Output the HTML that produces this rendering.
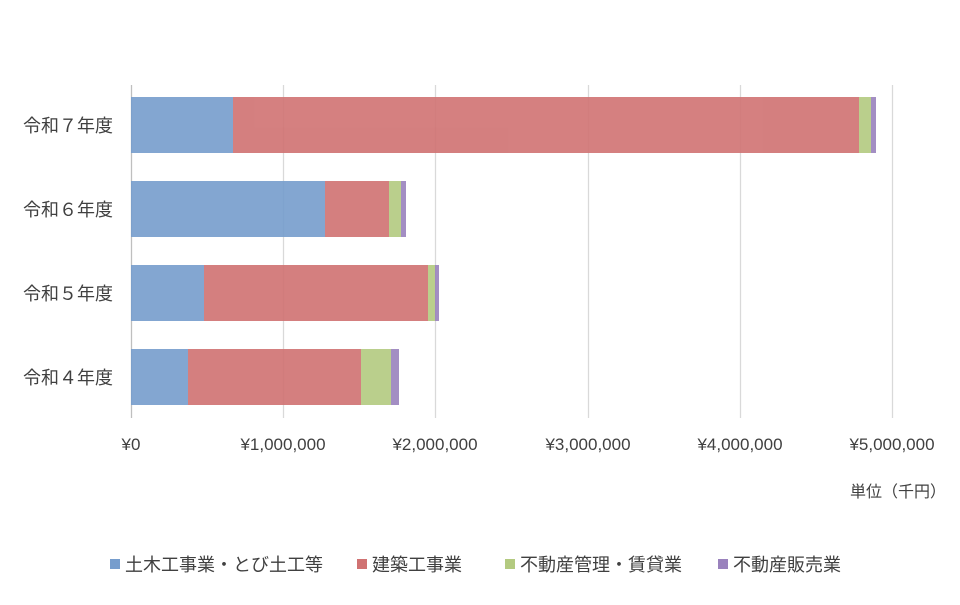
<!DOCTYPE html>
<html><head><meta charset="utf-8"><style>
body{margin:0;background:#fff;}
svg text{font-family:"Liberation Sans","Noto Sans CJK JP",sans-serif;fill:#404040;}
</style></head><body>
<svg width="960" height="600" xmlns="http://www.w3.org/2000/svg">
<rect width="960" height="600" fill="#fff"/>
<g stroke="#d9d9d9" stroke-width="1.3">
<line x1="283.5" y1="85" x2="283.5" y2="418"/>
<line x1="435.5" y1="85" x2="435.5" y2="418"/>
<line x1="588.5" y1="85" x2="588.5" y2="418"/>
<line x1="740.5" y1="85" x2="740.5" y2="418"/>
<line x1="892.5" y1="85" x2="892.5" y2="418"/>
</g>
<line x1="131.5" y1="85" x2="131.5" y2="418" stroke="#bfbfbf" stroke-width="1.3"/>
<g opacity="0.9">
<rect x="131" y="97" width="102" height="56" fill="#769dcd"/>
<rect x="233" y="97" width="626" height="56" fill="#d07272"/>
<rect x="859" y="97" width="12" height="56" fill="#b3ca80"/>
<rect x="871" y="97" width="5" height="56" fill="#9a82bd"/>
<rect x="131" y="181" width="194" height="56" fill="#769dcd"/>
<rect x="325" y="181" width="64" height="56" fill="#d07272"/>
<rect x="389" y="181" width="12" height="56" fill="#b3ca80"/>
<rect x="401" y="181" width="5" height="56" fill="#9a82bd"/>
<rect x="131" y="265" width="73" height="56" fill="#769dcd"/>
<rect x="204" y="265" width="224" height="56" fill="#d07272"/>
<rect x="428" y="265" width="7" height="56" fill="#b3ca80"/>
<rect x="435" y="265" width="4" height="56" fill="#9a82bd"/>
<rect x="131" y="349" width="57" height="56" fill="#769dcd"/>
<rect x="188" y="349" width="173" height="56" fill="#d07272"/>
<rect x="361" y="349" width="30" height="56" fill="#b3ca80"/>
<rect x="391" y="349" width="8" height="56" fill="#9a82bd"/>
</g>
<g font-size="18" text-anchor="end">
<text x="113" y="132">令和７年度</text>
<text x="113" y="216">令和６年度</text>
<text x="113" y="300">令和５年度</text>
<text x="113" y="384">令和４年度</text>
</g>
<g font-size="17" text-anchor="middle">
<text x="131" y="450">¥0</text>
<text x="283" y="450">¥1,000,000</text>
<text x="435" y="450">¥2,000,000</text>
<text x="588" y="450">¥3,000,000</text>
<text x="740" y="450">¥4,000,000</text>
<text x="892" y="450">¥5,000,000</text>
</g>
<text x="946" y="497" font-size="16" text-anchor="end">単位（千円）</text>
<g font-size="18">
<rect x="110" y="559" width="10" height="10" fill="#769dcd"/>
<text x="125" y="571">土木工事業・とび土工等</text>
<rect x="357" y="559" width="10" height="10" fill="#d07272"/>
<text x="372" y="571">建築工事業</text>
<rect x="505" y="559" width="10" height="10" fill="#b3ca80"/>
<text x="520" y="571">不動産管理・賃貸業</text>
<rect x="718" y="559" width="10" height="10" fill="#9a82bd"/>
<text x="733" y="571">不動産販売業</text>
</g>
</svg>
</body></html>
